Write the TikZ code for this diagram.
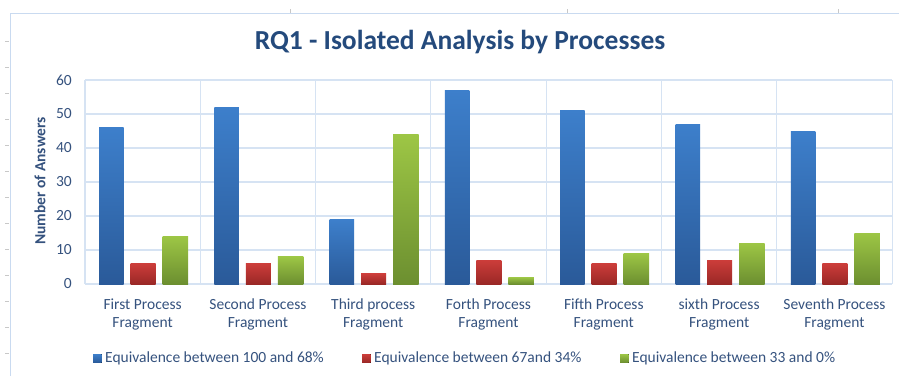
\documentclass[tikz,border=0pt]{standalone}
\usepackage{fontspec}
\setmainfont{Carlito}
\definecolor{framec}{HTML}{C9DAF0}
\definecolor{gridc}{HTML}{D6E3F3}
\definecolor{tickc}{HTML}{C8C8C8}
\definecolor{titlec}{HTML}{244A7C}
\definecolor{labc}{HTML}{35527E}
\definecolor{blueT}{HTML}{3D7FCB}
\definecolor{blueB}{HTML}{2A5A99}
\definecolor{redT}{HTML}{CC3D3A}
\definecolor{redB}{HTML}{9A2826}
\definecolor{greenT}{HTML}{9DC645}
\definecolor{greenB}{HTML}{6C8F30}
\begin{document}
\begin{tikzpicture}[x=1pt,y=-1pt,
  gridline/.style={draw=gridc,line width=1.1pt},
  ylab/.style={anchor=east,text=labc,font=\fontsize{15.5}{17}\selectfont,inner sep=0pt},
  catlab/.style={align=center,text=labc,font=\fontsize{15.5}{18}\selectfont,inner sep=0pt},
  leglab/.style={anchor=west,text=labc,font=\fontsize{15.5}{17}\selectfont,inner sep=0pt},
  bluebar/.style={top color=blueT,bottom color=blueB},
  redbar/.style={top color=redT,bottom color=redB},
  greenbar/.style={top color=greenT,bottom color=greenB}]
\useasboundingbox (0,0) rectangle (899,376);
\fill[white] (0,0) rectangle (899,376);
% sheet ticks
\foreach \k in {0,...,12}{\draw[tickc,line width=0.6pt] (5,41.7+26*\k) -- (9,41.7+26*\k);}
\foreach \xx in {290,567,838}{\draw[tickc,line width=0.6pt] (\xx,9) -- (\xx,13);}
% frame
\draw[framec,line width=1pt] (10,376) -- (10,13) -- (899,13);
% title
\node[text=titlec,font=\fontsize{27.5}{30}\selectfont\bfseries] (title) at (460,42) {RQ1 - Isolated Analysis by Processes};
% grid
\foreach \k in {0,...,6}{\draw[gridline] (85,284-34*\k) -- (892,284-34*\k);}
\foreach \i in {0,...,7}{\draw[gridline] (85+115.3*\i,80) -- (85+115.3*\i,284);}
% y labels
\foreach \k in {0,...,6}{\node[ylab] (y\k) at (72,284-34*\k) {\the\numexpr10*\k\relax};}
\node[rotate=90,text=labc,font=\fontsize{15.5}{17}\selectfont\bfseries] (ytitle) at (40,181) {Number of Answers};
% bars
\foreach \i/\a/\b/\c/\nm/\lab in {0/46/6/14/c1/First Process,1/52/6/8/c2/Second Process,2/19/3/44/c3/Third process,3/57/7/2/c4/Forth Process,4/51/6/9/c5/Fifth Process,5/47/7/12/c6/sixth Process,6/45/6/15/c7/Seventh Process}{
  \pgfmathsetmacro{\s}{85+115.3*\i}
  \shade[bluebar] (\s+14,284) rectangle (\s+38.5,284-3.4*\a);
  \shade[redbar] (\s+45.5,284) rectangle (\s+70.5,284-3.4*\b);
  \shade[greenbar] (\s+77.5,284) rectangle (\s+103,284-3.4*\c);
  \node[catlab] (\nm) at (\s+57.6,314) {\lab\\Fragment};
}
% legend
\fill[bluebar] (93,354) rectangle (101.5,362.5);
\node[leglab] (l1) at (105,358) {Equivalence between 100 and 68\%};
\fill[redbar] (362,354) rectangle (370.5,362.5);
\node[leglab] (l2) at (374,358) {Equivalence between 67and 34\%};
\fill[greenbar] (620,354) rectangle (628.5,362.5);
\node[leglab] (l3) at (632,358) {Equivalence between 33 and 0\%};
\end{tikzpicture}
\end{document}
